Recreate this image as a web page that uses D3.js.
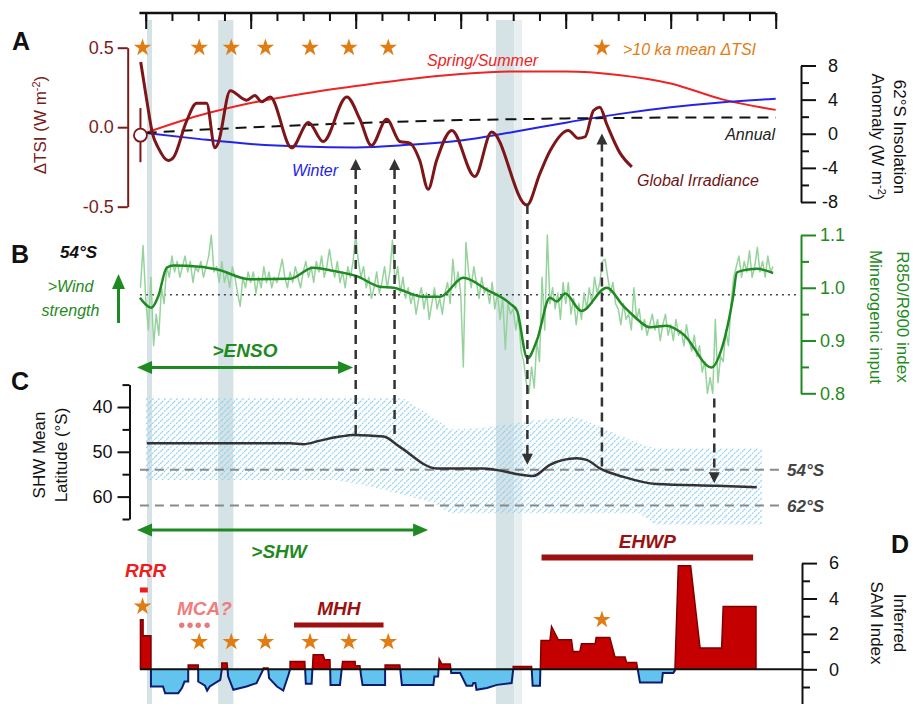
<!DOCTYPE html>
<html>
<head>
<meta charset="UTF-8">
<style>
    body {
        margin: 0;
        background: #fff;
        font-family: "Liberation Sans", Arial, Helvetica, sans-serif;
    }
    svg text {
        font-family: "Liberation Sans", Arial, Helvetica, sans-serif;
    }
</style>
<title>Holocene SHW panels</title>
</head>
<body>
<svg id="chart" width="914" height="704"></svg>

<script src="https://cdn.jsdelivr.net/npm/d3@7"></script>
<script>
// ---------- data (ages in ka BP) ----------
const topMajorTicks = [0, 2, 4, 6, 8, 10, 12];
const topMinorTicks = [0, 0.5, 1, 1.5, 2, 2.5, 3, 3.5, 4, 4.5, 5, 5.5, 6, 6.5, 7, 7.5, 8, 8.5, 9, 9.5, 10, 10.5, 11, 11.5, 12];

// grey-blue event bands
const bandSpans = [[0.025, 0.12], [1.38, 1.67], [6.67, 7.02]];
const bandSpansLight = [[7.02, 7.17]];

// A: 62°S insolation anomaly (W m-2)
const insAges = [0, 1, 2, 3, 4, 5, 6, 7, 8, 9, 10, 11, 12];
const summerIns = [0.1, 2.1, 3.6, 4.7, 5.6, 6.4, 7.0, 7.3, 7.3, 6.9, 5.9, 4.0, 2.8];
const winterIns = [0.1, -0.6, -1.2, -1.5, -1.6, -1.3, -0.8, 0.2, 1.3, 2.3, 3.1, 3.7, 4.1];
const annualIns = [0.1, 0.45, 0.75, 1.0, 1.25, 1.45, 1.6, 1.7, 1.8, 1.85, 1.9, 1.9, 1.9];

// A: global irradiance (delta TSI)
const tsiAges = [-0.095, 0.02, 0.13, 0.24, 0.43, 0.53, 0.78, 0.97, 1.16, 1.32, 1.38, 1.61, 1.92, 2.08, 2.21, 2.37, 2.78, 3.10, 3.38, 3.83, 4.08, 4.30, 4.59, 4.84, 5.03, 5.22, 5.38, 5.54, 5.83, 6.27, 6.59, 7.26, 7.51, 7.70, 8.05, 8.24, 8.37, 8.53, 8.65, 8.78, 9.03, 9.26];
const tsiVals = [0.41, 0.17, -0.04, -0.13, -0.21, -0.19, 0.04, 0.15, 0.15, -0.13, -0.10, 0.23, 0.17, 0.20, 0.16, 0.19, -0.13, 0.03, -0.09, 0.19, 0.05, -0.115, 0.05, -0.09, -0.10, -0.21, -0.39, -0.21, -0.02, -0.31, -0.03, -0.49, -0.29, -0.15, -0.02, -0.07, -0.06, 0.105, 0.125, 0.02, -0.16, -0.25];
const tsiNow = { age: -0.1, value: -0.05, err: 0.17 };
const tsiStarAges = [-0.06, 1.02, 1.63, 2.28, 3.13, 3.87, 4.62];

// B: R850/R900 index
const rSmoothAges = [-0.11, 0.11, 0.24, 0.40, 0.53, 1.03, 1.35, 1.99, 2.75, 3.19, 3.57, 4.02, 4.46, 4.72, 5.29, 5.61, 6.05, 6.50, 6.94, 7.07, 7.27, 7.45, 7.70, 7.83, 7.99, 8.30, 8.78, 9.10, 9.29, 9.61, 9.92, 10.24, 10.78, 10.97, 11.19, 11.26, 11.38, 11.64, 11.95];
const rSmooth = [0.981, 0.962, 0.984, 1.038, 1.042, 1.040, 1.035, 1.016, 1.017, 1.038, 1.032, 1.022, 1.002, 1.000, 0.983, 0.983, 1.019, 0.996, 0.970, 0.957, 0.866, 0.900, 0.981, 0.974, 0.989, 0.956, 1.000, 0.965, 0.947, 0.925, 0.928, 0.912, 0.849, 0.884, 0.984, 1.029, 1.033, 1.036, 1.028];
const rawStart = -0.1, rawStep = 0.05;
const rawR = [
    1.00, 1.08,
    0.98, 0.92, 1.02, 0.89, 0.95, 0.91, 1.00, 0.97, 1.04, 1.02, 1.06, 1.03, 1.05, 1.02, 1.04, 1.06, 1.03, 1.05, 1.01, 1.04,
    1.03, 1.05, 1.02, 1.04, 1.06, 1.10, 1.03, 1.04, 1.01, 1.05, 1.01, 1.03, 1.00, 1.04, 1.02, 0.99, 0.965, 1.02, 1.00, 1.03,
    1.01, 1.03, 0.99, 1.02, 1.00, 1.04, 1.01, 1.03, 1.00, 1.02, 1.01, 1.03, 1.054, 1.02, 1.00, 1.03, 1.01, 1.04, 1.02, 1.00,
    1.03, 1.05, 1.02, 1.04, 1.01, 1.05, 1.03, 1.06, 1.02, 1.04, 1.073, 1.04, 1.02, 1.05, 1.01, 1.03, 1.00, 1.04, 1.02, 1.05,
    1.10, 1.05, 1.02, 1.04, 1.00, 1.02, 0.98, 1.00, 1.03, 0.99, 1.01, 1.04, 1.00, 1.03, 1.09, 1.01, 1.04, 0.99, 1.02, 0.98,
    1.00, 0.97, 0.99, 0.95, 0.98, 1.00, 0.96, 0.99, 0.94, 0.97, 1.00, 0.96, 0.98, 0.95, 0.99, 1.01, 0.97, 1.054, 1.00, 1.03,
    0.99, 0.85, 1.086, 1.03, 1.00, 1.04, 1.01, 0.98, 1.02, 0.99, 1.00, 0.97, 1.01, 0.96, 0.99, 0.94, 0.98, 0.883, 0.97, 0.95,
    0.96, 0.92, 0.95, 0.88, 0.86, 0.82, 0.80, 0.85, 0.81, 0.90, 0.86, 1.02, 0.92, 1.10, 0.97, 1.00, 0.96, 0.99, 0.94, 1.01,
    0.97, 1.01, 0.95, 0.98, 0.93, 0.97, 0.94, 0.99, 0.96, 1.00, 0.97, 1.02, 0.99, 1.01, 1.05, 1.054, 1.02, 0.99, 1.01, 0.97,
    0.96, 0.93, 0.97, 0.94, 0.95, 0.92, 1.00, 0.94, 0.96, 0.92, 0.94, 0.91, 0.93, 0.95, 0.92, 0.94, 0.90, 0.93, 0.95, 0.91,
    0.93, 0.90, 0.94, 0.91, 0.92, 0.89, 0.93, 0.90, 0.88, 0.91, 0.87, 0.89, 0.84, 0.86, 0.80, 0.83, 0.80, 0.94, 0.82, 0.87,
    0.86, 0.92, 0.89, 0.97, 1.02, 1.04, 1.06, 1.02, 1.05, 1.03, 1.07, 1.02, 1.04, 1.077, 1.03, 1.05, 1.02, 1.06, 1.03, 1.04
];
const rMean = 0.987;

// C: SHW mean latitude (°S)
const shwAges = [0.02, 2.75, 3.0, 3.32, 3.70, 3.95, 4.53, 4.84, 5.54, 6.43, 7.38, 7.70, 8.21, 8.40, 8.65, 9.10, 9.73, 10.88, 11.64];
const shwLat = [48.1, 48.1, 48.3, 47.5, 46.6, 46.25, 46.6, 48.9, 53.7, 53.7, 55.4, 52.9, 51.45, 51.8, 53.7, 55.6, 57.2, 57.6, 57.9];
const shwBandAges = [0, 3.6, 4.3, 4.9, 5.5, 5.8, 6.4, 7.4, 8.2, 9.4, 9.7, 11.74];
const shwBandTop = [38, 38, 38, 38, 42.5, 45, 44.7, 43, 42.2, 48.2, 49.2, 49.2];
const shwBandBottom = [56.3, 56.3, 57.8, 59.6, 61.5, 63.7, 63.7, 63.7, 63.7, 63.7, 66.3, 66.3];
const refLats = [54, 62];

// D: inferred SAM index [age, value]
const samPoints = [
    [-0.1, 0], [-0.1, 2.8], [-0.05, 2.8], [-0.05, 1.9], [0.1, 1.9], [0.1, -0.97], [0.33, -0.97], [0.37, -1.35],
    [0.62, -1.35], [0.69, -1.06], [0.74, -0.69], [0.81, -0.69], [0.81, 0.25], [1.0, 0.25], [1.0, -0.69],
    [1.13, -0.93], [1.17, -1.2], [1.22, -0.97], [1.42, -0.6], [1.45, 0], [1.45, 0.35], [1.55, 0.35],
    [1.57, -0.4], [1.67, -1.16], [1.92, -0.97], [2.11, -0.78], [2.24, 0], [2.24, 0.07], [2.33, 0.07],
    [2.35, -0.5], [2.5, -0.97], [2.62, -1.2], [2.72, -0.31], [2.75, 0], [2.75, 0.44], [3.03, 0.44],
    [3.05, -0.82], [3.16, -0.82], [3.19, 0.82], [3.38, 0.82], [3.41, 0.54], [3.51, 0.54], [3.52, -0.88],
    [3.70, -0.88], [3.75, 0.44], [3.99, 0.44], [3.99, 0.2], [4.08, 0.2], [4.1, -0.31], [4.13, -0.88],
    [4.56, -0.88], [4.56, 0.25], [4.84, 0.25], [4.88, -0.88], [5.48, -0.88], [5.5, -0.4], [5.57, -0.4],
    [5.59, 0.58], [5.64, 0.3], [5.80, 0.3], [5.82, -0.21], [5.99, -0.21], [6.11, -0.93], [6.22, -0.93],
    [6.24, -0.78], [6.28, -0.78], [6.30, -1.16], [6.50, -1.06], [6.69, -0.88], [6.97, -0.78], [7.0, 0],
    [7.0, 0.16], [7.35, 0.16], [7.37, -0.93], [7.51, -0.93], [7.53, 1.63], [7.70, 1.63], [7.73, 2.42],
    [7.86, 1.67], [8.11, 1.67], [8.14, 1.0], [8.27, 1.0], [8.30, 1.44], [8.56, 1.44], [8.58, 1.8],
    [8.84, 1.8], [8.94, 0.69], [9.13, 0.69], [9.16, 0.38], [9.35, 0.38], [9.415, -0.75], [9.83, -0.75],
    [9.85, -0.21], [10.05, -0.21], [10.08, -0.06], [10.145, 5.85], [10.38, 5.85], [10.56, 1.2],
    [10.97, 1.2], [11.0, 3.55], [11.625, 3.55], [11.625, 0]
];
const samStars = [[-0.06, 3.55], [1.02, 1.55], [1.63, 1.55], [2.28, 1.55], [3.13, 1.55], [3.87, 1.55], [4.62, 1.55], [8.69, 2.8]];
const periods = [
    { name: 'EHWP', start: 7.54, end: 11.57 },
    { name: 'MHH', start: 2.825, end: 4.53 }
];
const rrrSpan = [-0.11, 0.04];
const mcaDotAges = [0.686, 0.844, 1.0, 1.17];
const ensoSpan = [-0.166, 3.95];
const shwSpan = [-0.166, 5.38];

// dashed links between panels
const links = [
    { age: 4.0, from: ['lat', 46.0], to: ['tsi', -0.2] },
    { age: 4.74, from: ['lat', 46.0], to: ['tsi', -0.2] },
    { age: 7.27, from: ['tsi', -0.49], to: ['lat', 52.9] },
    { age: 8.69, from: ['lat', 53.3], to: ['tsi', -0.04] },
    { age: 10.83, from: ['r', 0.79], to: ['lat', 57.0] }
];

// ---------- scales ----------
const x = d3.scaleLinear().domain([0, 12]).range([145.7, 775.7]);
const yTSI = d3.scaleLinear().domain([-0.5, 0.5]).range([206.7, 47.7]);
const yIns = d3.scaleLinear().domain([-8, 8]).range([202, 65.5]);
const yR = d3.scaleLinear().domain([0.8, 1.1]).range([393.3, 235]);
const yLat = d3.scaleLinear().domain([35, 65]).range([384.6, 519]);
const ySAM = d3.scaleLinear().domain([-2, 6]).range([704.7, 563.1]);
const yBy = { tsi: yTSI, r: yR, lat: yLat, sam: ySAM };

const darkRed = '#7d1618';
const green = '#1f8a22';
const orange = '#e07c14';
const font = '"Liberation Sans", Arial, Helvetica, sans-serif';

const svg = d3.select('#chart');
const defs = svg.append('defs');

const hatch = defs.append('pattern')
    .attr('id', 'hatch')
    .attr('patternUnits', 'userSpaceOnUse')
    .attr('width', 6)
    .attr('height', 6);
hatch.append('path')
    .attr('d', 'M-1,1 l2,-2 M0,6 l6,-6 M5,7 l2,-2')
    .attr('stroke', '#8dd0ef')
    .attr('stroke-width', 1.1)
    .attr('stroke-dasharray', '2,1');

defs.append('clipPath').attr('id', 'clipPos')
    .append('rect').attr('x', 0).attr('y', 540).attr('width', 914).attr('height', ySAM(0) - 540);
defs.append('clipPath').attr('id', 'clipNeg')
    .append('rect').attr('x', 0).attr('y', ySAM(0)).attr('width', 914).attr('height', 60);

// ---------- background bands ----------
svg.append('g').selectAll('rect')
    .data(bandSpans)
    .join('rect')
    .attr('x', d => x(d[0]))
    .attr('width', d => x(d[1]) - x(d[0]))
    .attr('y', 20)
    .attr('height', 684)
    .attr('fill', '#d5e3e6');
svg.append('g').selectAll('rect')
    .data(bandSpansLight)
    .join('rect')
    .attr('x', d => x(d[0]))
    .attr('width', d => x(d[1]) - x(d[0]))
    .attr('y', 20)
    .attr('height', 684)
    .attr('fill', '#e7eff1');

// ---------- top axis ----------
const topG = svg.append('g').attr('transform', 'translate(0,13)');
topG.append('g')
    .call(d3.axisBottom(x).tickValues(topMinorTicks).tickSize(8).tickFormat('').tickSizeOuter(0))
    .call(g => g.select('.domain').remove());
topG.append('g')
    .call(d3.axisBottom(x).tickValues(topMajorTicks).tickSize(16).tickFormat('').tickSizeOuter(0))
    .call(g => g.select('.domain').remove());
topG.append('line')
    .attr('x1', x(-0.12)).attr('x2', x(12))
    .attr('stroke', '#111').attr('stroke-width', 2.5);
topG.selectAll('.tick line').attr('stroke', '#111').attr('stroke-width', 2);

// ---------- helpers ----------
function styleAxis(g, color) {
    g.attr('color', color);
    g.selectAll('g').attr('font-size', null).attr('font-family', null);
    g.selectAll('text').attr('font-size', 18).attr('font-family', font).attr('fill', color);
    g.selectAll('.domain').attr('stroke-width', 2);
    g.selectAll('.tick line').attr('stroke-width', 2);
}

function rightAxis(scale, xPos, major, minor, fmt, color, alignEnd) {
    const g = svg.append('g').attr('transform', `translate(${xPos},0)`);
    g.append('g').call(d3.axisRight(scale).tickValues(minor).tickSize(8).tickFormat('').tickSizeOuter(0))
        .call(s => s.select('.domain').remove());
    const main = g.append('g').call(d3.axisRight(scale).tickValues(major).tickSize(15).tickPadding(4).tickFormat(fmt).tickSizeOuter(0));
    if (alignEnd) {
        main.selectAll('text').attr('x', 37).attr('text-anchor', 'end');
    }
    styleAxis(g, color);
    return g;
}

function addText(xp, yp, str, opts = {}) {
    return svg.append('text')
        .attr('x', xp)
        .attr('y', yp)
        .attr('font-size', opts.size || 16)
        .attr('font-style', opts.italic ? 'italic' : 'normal')
        .attr('font-weight', opts.bold ? 'bold' : 'normal')
        .attr('text-anchor', opts.anchor || 'start')
        .attr('fill', opts.color || '#111')
        .text(str);
}

// rotated axis title with optional superscript "-2"
function rotTitle(xp, yp, angle, before, sup, after, color) {
    const t = svg.append('text')
        .attr('transform', `translate(${xp},${yp}) rotate(${angle})`)
        .attr('text-anchor', 'middle')
        .attr('dy', '0.35em')
        .attr('font-size', 17)
        .attr('fill', color);
    t.append('tspan').text(before);
    if (sup) {
        t.append('tspan').attr('dy', -6).attr('font-size', 11).text(sup);
        t.append('tspan').attr('dy', 6).text(after);
    }
    return t;
}

function arrowHead(g, xp, yp, dx, dy, len, half, color) {
    // tip at (xp,yp); dx,dy unit direction of travel
    const bx = xp - dx * len, by = yp - dy * len;
    const px = -dy * half, py = dx * half;
    g.append('path')
        .attr('d', `M${xp},${yp}L${bx + px},${by + py}L${bx - px},${by - py}Z`)
        .attr('fill', color);
}

function doubleArrow(x1, x2, yp, color) {
    const g = svg.append('g');
    g.append('line').attr('x1', x1 + 12).attr('x2', x2 - 12).attr('y1', yp).attr('y2', yp)
        .attr('stroke', color).attr('stroke-width', 3);
    arrowHead(g, x1, yp, -1, 0, 15, 6.5, color);
    arrowHead(g, x2, yp, 1, 0, 15, 6.5, color);
}

// ---------- panel C hatch band + reference lines ----------
const bandRows = shwBandAges.map((a, i) => [a, shwBandTop[i], shwBandBottom[i]]);
svg.append('path')
    .datum(bandRows)
    .attr('fill', 'url(#hatch)')
    .attr('d', d3.area().x(d => x(d[0])).y0(d => yLat(d[2])).y1(d => yLat(d[1])));

svg.append('g').selectAll('line')
    .data(refLats)
    .join('line')
    .attr('x1', x(-0.11)).attr('x2', 780)
    .attr('y1', d => yLat(d)).attr('y2', d => yLat(d))
    .attr('stroke', '#8a8a8a').attr('stroke-width', 2).attr('stroke-dasharray', '9,6');
refLats.forEach(d => addText(787, yLat(d) + 6, `${d}°S`, { size: 17, bold: true, italic: true, color: '#444' }));

// ---------- panel A ----------
const insRows = insAges.map((a, i) => ({ a, s: summerIns[i], w: winterIns[i], y: annualIns[i] }));
const insLine = key => d3.line().x(d => x(d.a)).y(d => yIns(d[key])).curve(d3.curveMonotoneX);
svg.append('path').datum(insRows).attr('d', insLine('s')).attr('fill', 'none').attr('stroke', '#ec2424').attr('stroke-width', 2);
svg.append('path').datum(insRows).attr('d', insLine('w')).attr('fill', 'none').attr('stroke', '#2424e8').attr('stroke-width', 2);
svg.append('path').datum(insRows).attr('d', insLine('y')).attr('fill', 'none').attr('stroke', '#111')
    .attr('stroke-width', 2).attr('stroke-dasharray', '11,7');

const tsiRows = tsiAges.map((a, i) => [a, tsiVals[i]]);
svg.append('path')
    .datum(tsiRows)
    .attr('d', d3.line().x(d => x(d[0])).y(d => yTSI(d[1])).curve(d3.curveMonotoneX))
    .attr('fill', 'none').attr('stroke', darkRed).attr('stroke-width', 3).attr('stroke-linejoin', 'round');

// present-day value with error bar
svg.append('line')
    .attr('x1', x(tsiNow.age)).attr('x2', x(tsiNow.age))
    .attr('y1', yTSI(tsiNow.value + tsiNow.err)).attr('y2', yTSI(tsiNow.value - tsiNow.err))
    .attr('stroke', darkRed).attr('stroke-width', 2);
svg.append('circle')
    .attr('cx', x(tsiNow.age)).attr('cy', yTSI(tsiNow.value)).attr('r', 6.5)
    .attr('fill', '#fff').attr('stroke', darkRed).attr('stroke-width', 1.8);

const star = d3.symbol(d3.symbolStar).size(95);
svg.append('g').selectAll('path')
    .data(tsiStarAges)
    .join('path')
    .attr('d', star)
    .attr('transform', d => `translate(${x(d)},${yTSI(0.5)})`)
    .attr('fill', orange);
svg.append('path').attr('d', star).attr('transform', `translate(${x(8.69)},${yTSI(0.5)})`).attr('fill', orange);
addText(623, 55, '>10 ka mean ΔTSI', { italic: true, color: orange });

// A axes
const aLeft = svg.append('g').attr('transform', 'translate(127.7,0)')
    .call(d3.axisLeft(yTSI).tickValues([-0.5, 0, 0.5]).tickSize(10).tickPadding(4).tickFormat(d => d.toFixed(1)).tickSizeOuter(0));
styleAxis(aLeft, '#7a1c1c');
rightAxis(yIns, 801, [-8, -4, 0, 4, 8], [-6, -2, 2, 6], d => d, '#111', true);

addText(427, 66, 'Spring/Summer', { italic: true, color: '#ea2424' });
addText(292, 176, 'Winter', { italic: true, color: '#2323e6' });
addText(775, 140, 'Annual', { italic: true, anchor: 'end', color: '#222' });
addText(637, 186, 'Global Irradiance', { italic: true, color: '#6e1414' });

rotTitle(40, 125, -90, 'ΔTSI (W m', '-2', ')', '#7a1c1c');
rotTitle(900, 137, 90, '62°S Insolation', null, null, '#111');
rotTitle(878, 137, 90, 'Anomaly (W m', '-2', ')', '#111');

// ---------- panel B ----------
svg.append('line')
    .attr('x1', x(-0.11)).attr('x2', 800)
    .attr('y1', yR(rMean)).attr('y2', yR(rMean))
    .attr('stroke', '#444').attr('stroke-width', 1.5).attr('stroke-dasharray', '2,4');

svg.append('path')
    .datum(rawR)
    .attr('d', d3.line().x((d, i) => x(rawStart + i * rawStep)).y(d => yR(d)))
    .attr('fill', 'none').attr('stroke', '#96d39c').attr('stroke-width', 1.5).attr('stroke-linejoin', 'round');

const rRows = rSmoothAges.map((a, i) => [a, rSmooth[i]]);
svg.append('path')
    .datum(rRows)
    .attr('d', d3.line().x(d => x(d[0])).y(d => yR(d[1])).curve(d3.curveMonotoneX))
    .attr('fill', 'none').attr('stroke', green).attr('stroke-width', 2.5);

rightAxis(yR, 801, [0.8, 0.9, 1.0, 1.1], [0.85, 0.95, 1.05], d3.format('.1f'), green, false);
rotTitle(903, 317, 90, 'R850/R900 index', null, null, green);
rotTitle(876, 317, 90, 'Minerogenic input', null, null, green);

addText(60, 258, '54°S', { size: 17, bold: true, italic: true });
addText(70.5, 292, '>Wind', { italic: true, anchor: 'middle', color: green });
addText(70.5, 316, 'strength', { italic: true, anchor: 'middle', color: green });
const windG = svg.append('g');
windG.append('line').attr('x1', 118.5).attr('x2', 118.5).attr('y1', 323).attr('y2', 286)
    .attr('stroke', green).attr('stroke-width', 3);
arrowHead(windG, 118.5, 274, 0, -1, 15, 6.5, green);

doubleArrow(x(ensoSpan[0]), x(ensoSpan[1]), 367.5, green);
addText(245, 357, '>ENSO', { size: 19, bold: true, italic: true, anchor: 'middle', color: green });

// ---------- panel C ----------
const shwRows = shwAges.map((a, i) => [a, shwLat[i]]);
svg.append('path')
    .datum(shwRows)
    .attr('d', d3.line().x(d => x(d[0])).y(d => yLat(d[1])).curve(d3.curveMonotoneX))
    .attr('fill', 'none').attr('stroke', '#333').attr('stroke-width', 2.5);

const cLeft = svg.append('g').attr('transform', 'translate(129.5,0)');
cLeft.append('g').call(d3.axisLeft(yLat).tickValues([35, 45, 55, 65]).tickSize(7).tickFormat('').tickSizeOuter(0))
    .call(s => s.select('.domain').remove());
cLeft.append('g').call(d3.axisLeft(yLat).tickValues([40, 50, 60]).tickSize(12).tickPadding(5).tickSizeOuter(0));
styleAxis(cLeft, '#111');
rotTitle(39, 455, -90, 'SHW Mean', null, null, '#111');
rotTitle(61, 455, -90, 'Latitude (°S)', null, null, '#111');

doubleArrow(x(shwSpan[0]), x(shwSpan[1]), 530, green);
addText(279, 558, '>SHW', { size: 19, bold: true, italic: true, anchor: 'middle', color: green });

// ---------- panel D ----------
const samArea = d3.area().x(d => x(d[0])).y0(ySAM(0)).y1(d => ySAM(d[1]));
const samLine = d3.line().x(d => x(d[0])).y(d => ySAM(d[1]));
svg.append('path').datum(samPoints).attr('d', samArea).attr('fill', '#c40000').attr('clip-path', 'url(#clipPos)');
svg.append('path').datum(samPoints).attr('d', samLine).attr('fill', 'none')
    .attr('stroke', '#7e0000').attr('stroke-width', 1.5).attr('clip-path', 'url(#clipPos)');
svg.append('path').datum(samPoints).attr('d', samArea).attr('fill', '#62c4ee').attr('clip-path', 'url(#clipNeg)');
svg.append('path').datum(samPoints).attr('d', samLine).attr('fill', 'none')
    .attr('stroke', '#0c1c6e').attr('stroke-width', 2).attr('clip-path', 'url(#clipNeg)');
svg.append('line')
    .attr('x1', x(-0.11)).attr('x2', 802)
    .attr('y1', ySAM(0)).attr('y2', ySAM(0))
    .attr('stroke', '#111').attr('stroke-width', 2);

svg.append('g').selectAll('path')
    .data(samStars)
    .join('path')
    .attr('d', star)
    .attr('transform', d => `translate(${x(d[0])},${ySAM(d[1])})`)
    .attr('fill', orange);

rightAxis(ySAM, 802, [-2, 0, 2, 4, 6], [-1, 1, 3, 5], d => (d < 0 ? '' : d), '#111', true);
rotTitle(900, 623, 90, 'Inferred', null, null, '#111');
rotTitle(877, 623, 90, 'SAM Index', null, null, '#111');

// period bars
const periodY = { EHWP: 557.5, MHH: 625 };
periods.forEach(p => {
    svg.append('line')
        .attr('x1', x(p.start)).attr('x2', x(p.end))
        .attr('y1', periodY[p.name]).attr('y2', periodY[p.name])
        .attr('stroke', '#9c1010').attr('stroke-width', p.name === 'EHWP' ? 6 : 5);
    addText((x(p.start) + x(p.end)) / 2, periodY[p.name] - 10, p.name,
        { size: 19, bold: true, italic: true, anchor: 'middle', color: '#9c1010' });
});
svg.append('line')
    .attr('x1', x(rrrSpan[0])).attr('x2', x(rrrSpan[1]))
    .attr('y1', 590).attr('y2', 590)
    .attr('stroke', '#ee1c1c').attr('stroke-width', 5);
addText(125, 577, 'RRR', { size: 19, bold: true, italic: true, color: '#ee1c1c' });
addText(177, 615, 'MCA?', { size: 19, bold: true, italic: true, color: '#f07d7d' });
svg.append('g').selectAll('circle')
    .data(mcaDotAges)
    .join('circle')
    .attr('cx', d => x(d)).attr('cy', 625.3).attr('r', 2.7)
    .attr('fill', '#e87c7c');

// ---------- dashed links ----------
const linkG = svg.append('g');
links.forEach(l => {
    const xp = x(l.age);
    const y1 = yBy[l.from[0]](l.from[1]);
    const y2 = yBy[l.to[0]](l.to[1]);
    const dir = Math.sign(y2 - y1);
    linkG.append('line')
        .attr('x1', xp).attr('x2', xp)
        .attr('y1', y1).attr('y2', y2 - dir * 9)
        .attr('stroke', '#333').attr('stroke-width', 2.5).attr('stroke-dasharray', '9,6');
    arrowHead(linkG, xp, y2, 0, dir, 11, 5.5, '#333');
});

// panel letters
addText(12, 50, 'A', { size: 25, bold: true });
addText(11, 263, 'B', { size: 25, bold: true });
addText(11, 390, 'C', { size: 25, bold: true });
addText(891, 553, 'D', { size: 25, bold: true });
</script>
</body>
</html>
